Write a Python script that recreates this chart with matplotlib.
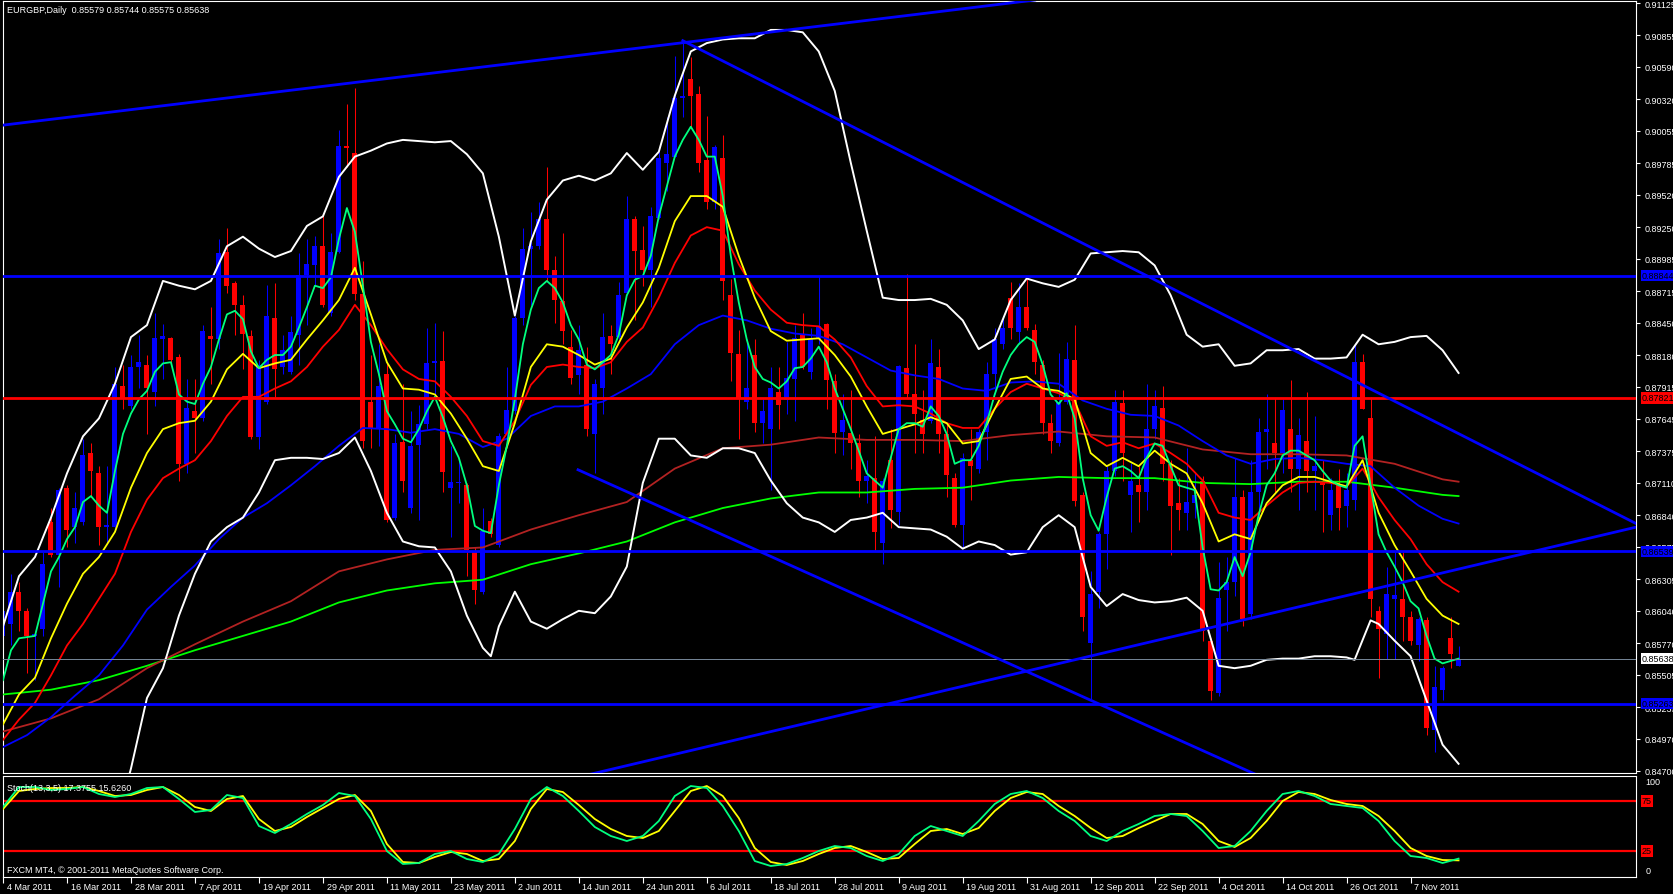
import matplotlib
matplotlib.use("Agg")
import matplotlib.pyplot as plt
from matplotlib.transforms import blended_transform_factory

plt.rcParams['font.family'] = ['Liberation Sans', 'DejaVu Sans']
FS = 6.5

# ---- candles (bar 0 = 4 Mar 2011, daily, weekdays) ----
opens = [0.8583, 0.8593, 0.8620, 0.8604, 0.8583, 0.8589, 0.8678, 0.8651, 0.8707, 0.8674,
         0.8678, 0.8736, 0.8719, 0.8674, 0.8674, 0.8792, 0.8775, 0.8808, 0.8810, 0.8787,
         0.8831, 0.8832, 0.8816, 0.8727, 0.8771, 0.8765, 0.8834, 0.8831, 0.8904, 0.8878,
         0.8860, 0.8834, 0.8749, 0.8779, 0.8849, 0.8808, 0.8804, 0.8835, 0.8885, 0.8893,
         0.8909, 0.8853, 0.8904, 0.8993, 0.8987, 0.8869, 0.8779, 0.8756, 0.8802, 0.8682,
         0.8745, 0.8690, 0.8743, 0.8760, 0.8811, 0.8813, 0.8707, 0.8711, 0.8709, 0.8653,
         0.8620, 0.8679, 0.8659, 0.8752, 0.8771, 0.8849, 0.8907, 0.8909, 0.8932, 0.8889,
         0.8863, 0.8825, 0.8801, 0.8810, 0.8752, 0.8790, 0.8834, 0.8833, 0.8870, 0.8932,
         0.8906, 0.8889, 0.8933, 0.8979, 0.8984, 0.9033, 0.9049, 0.9036, 0.8981, 0.8946,
         0.8983, 0.8868, 0.8819, 0.8779, 0.8818, 0.8761, 0.8756, 0.8787, 0.8780, 0.8798,
         0.8835, 0.8804, 0.8831, 0.8844, 0.8796, 0.8754, 0.8753, 0.8744, 0.8713, 0.8715,
         0.8661, 0.8730, 0.8687, 0.8807, 0.8785, 0.8764, 0.8763, 0.8808, 0.8752, 0.8715,
         0.8676, 0.8730, 0.8723, 0.8754, 0.8802, 0.8827, 0.8866, 0.8837, 0.8858, 0.8839,
         0.8810, 0.8761, 0.8744, 0.8779, 0.8814, 0.8701, 0.8577, 0.8620, 0.8668, 0.8721,
         0.8778, 0.8701, 0.8709, 0.8703, 0.8756, 0.8774, 0.8727, 0.8694, 0.8686, 0.8694,
         0.8713, 0.8579, 0.8535, 0.8621, 0.8628, 0.8699, 0.8601, 0.8703, 0.8754, 0.8744,
         0.8736, 0.8756, 0.8723, 0.8746, 0.8721, 0.8713, 0.8684, 0.8709, 0.8692, 0.8697,
         0.8812, 0.8765, 0.8604, 0.8585, 0.8614, 0.8614, 0.8599, 0.8575, 0.8596, 0.8504,
         0.8538, 0.8581, 0.85579]
highs = [0.8610, 0.8635, 0.8628, 0.8606, 0.8587, 0.8653, 0.8690, 0.8707, 0.8709, 0.8703,
         0.8748, 0.8744, 0.8725, 0.8725, 0.8808, 0.8810, 0.8818, 0.8835, 0.8818, 0.8853,
         0.8844, 0.8833, 0.8819, 0.8798, 0.8798, 0.8843, 0.8858, 0.8915, 0.8924, 0.8880,
         0.8868, 0.8839, 0.8814, 0.8877, 0.8878, 0.8835, 0.8851, 0.8903, 0.8915, 0.8918,
         0.8936, 0.8920, 0.9006, 0.9028, 0.9041, 0.8897, 0.8818, 0.8827, 0.8812, 0.8752,
         0.8794, 0.8771, 0.8776, 0.8841, 0.8845, 0.8838, 0.8742, 0.8732, 0.8711, 0.8657,
         0.8690, 0.8682, 0.8753, 0.8808, 0.8851, 0.8924, 0.8938, 0.8946, 0.8975, 0.8901,
         0.8920, 0.8839, 0.8843, 0.8825, 0.8798, 0.8853, 0.8843, 0.8879, 0.8951, 0.8934,
         0.8926, 0.8942, 0.8988, 0.9017, 0.9068, 0.9081, 0.9067, 0.9043, 0.9018, 0.8994,
         0.9002, 0.8882, 0.8839, 0.8831, 0.8831, 0.8781, 0.8808, 0.8808, 0.8829, 0.8843,
         0.8853, 0.8841, 0.8884, 0.8845, 0.8802, 0.8785, 0.8789, 0.8752, 0.8730, 0.8750,
         0.8715, 0.8756, 0.8810, 0.8886, 0.8827, 0.8789, 0.8831, 0.8823, 0.8761, 0.8719,
         0.8736, 0.8756, 0.8756, 0.8812, 0.8841, 0.8851, 0.8879, 0.8878, 0.8882, 0.8844,
         0.8814, 0.8769, 0.8820, 0.8829, 0.8843, 0.8703, 0.8637, 0.8670, 0.8725, 0.8789,
         0.8789, 0.8728, 0.8725, 0.8794, 0.8789, 0.8792, 0.8730, 0.8715, 0.8740, 0.8719,
         0.8717, 0.8581, 0.8645, 0.8649, 0.8732, 0.8705, 0.8730, 0.8765, 0.8785, 0.8782,
         0.8781, 0.8797, 0.8765, 0.8787, 0.8767, 0.8730, 0.8715, 0.8723, 0.8719, 0.8827,
         0.8819, 0.8783, 0.8608, 0.8641, 0.8653, 0.8653, 0.8604, 0.8599, 0.8599, 0.8558,
         0.8558, 0.8599, 0.85744]
lows = [0.8579, 0.8575, 0.8587, 0.8552, 0.8546, 0.8583, 0.8649, 0.8624, 0.8657, 0.8661,
        0.8676, 0.8699, 0.8659, 0.8661, 0.8672, 0.8773, 0.8773, 0.8790, 0.8752, 0.8775,
        0.8798, 0.8812, 0.8713, 0.8719, 0.8736, 0.8763, 0.8794, 0.8823, 0.8870, 0.8835,
        0.8806, 0.8748, 0.8739, 0.8777, 0.8783, 0.8802, 0.8802, 0.8810, 0.8843, 0.8876,
        0.8858, 0.8851, 0.8903, 0.8975, 0.8864, 0.8740, 0.8740, 0.8742, 0.8678, 0.8680,
        0.8703, 0.8686, 0.8680, 0.8756, 0.8785, 0.8703, 0.8666, 0.8694, 0.8633, 0.8610,
        0.8618, 0.8666, 0.8657, 0.8748, 0.8769, 0.8843, 0.8860, 0.8907, 0.8880, 0.8845,
        0.8827, 0.8794, 0.8785, 0.8750, 0.8719, 0.8769, 0.8802, 0.8831, 0.8868, 0.8847,
        0.8876, 0.8858, 0.8932, 0.8955, 0.8984, 0.9017, 0.9008, 0.8971, 0.8940, 0.8940,
        0.8864, 0.8796, 0.8748, 0.8773, 0.8754, 0.8744, 0.8705, 0.8756, 0.8769, 0.8763,
        0.8806, 0.8798, 0.8827, 0.8773, 0.8736, 0.8734, 0.8723, 0.8699, 0.8694, 0.8655,
        0.8643, 0.8673, 0.8676, 0.8782, 0.8736, 0.8736, 0.8761, 0.8736, 0.8699, 0.8674,
        0.8657, 0.8697, 0.8719, 0.8730, 0.8785, 0.8823, 0.8831, 0.8827, 0.8839, 0.8802,
        0.8752, 0.8736, 0.8742, 0.8777, 0.8692, 0.8587, 0.8529, 0.8606, 0.8639, 0.8717,
        0.8713, 0.8670, 0.8678, 0.8688, 0.8748, 0.8713, 0.8651, 0.8672, 0.8672, 0.8682,
        0.8579, 0.8529, 0.8533, 0.8587, 0.8616, 0.8591, 0.8597, 0.8682, 0.8723, 0.8703,
        0.8719, 0.8703, 0.8688, 0.8703, 0.8688, 0.8670, 0.8672, 0.8672, 0.8674, 0.8688,
        0.8773, 0.8599, 0.8548, 0.8564, 0.8564, 0.8579, 0.8575, 0.8562, 0.8500, 0.8486,
        0.8529, 0.8556, 0.85575]
closes = [0.8604, 0.8620, 0.8604, 0.8583, 0.8585, 0.8643, 0.8651, 0.8705, 0.8672, 0.8690,
          0.8734, 0.8721, 0.8674, 0.8676, 0.8794, 0.8781, 0.8808, 0.8812, 0.8790, 0.8832,
          0.8834, 0.8814, 0.8727, 0.8774, 0.8765, 0.8838, 0.8831, 0.8903, 0.8876, 0.8860,
          0.8836, 0.8749, 0.8810, 0.8851, 0.8806, 0.8822, 0.8837, 0.8885, 0.8894, 0.8909,
          0.8860, 0.8904, 0.8993, 0.8991, 0.8869, 0.8746, 0.8756, 0.8792, 0.8680, 0.8744,
          0.8713, 0.8742, 0.8760, 0.8811, 0.8813, 0.8720, 0.8712, 0.8712, 0.8655, 0.8621,
          0.8671, 0.8668, 0.8750, 0.8772, 0.8849, 0.8907, 0.8909, 0.8932, 0.8889, 0.8864,
          0.8838, 0.8799, 0.8822, 0.8756, 0.8794, 0.8833, 0.8827, 0.8868, 0.8932, 0.8905,
          0.8889, 0.8934, 0.8983, 0.8986, 0.9033, 0.9035, 0.9035, 0.8979, 0.8946, 0.8992,
          0.8880, 0.8820, 0.8781, 0.8790, 0.8761, 0.8771, 0.8790, 0.8776, 0.8799, 0.8832,
          0.8808, 0.8831, 0.8842, 0.8797, 0.8753, 0.8764, 0.8744, 0.8713, 0.8717, 0.8670,
          0.8713, 0.8688, 0.8809, 0.8785, 0.8769, 0.8752, 0.8811, 0.8752, 0.8718, 0.8676,
          0.8732, 0.8725, 0.8754, 0.8802, 0.8831, 0.8841, 0.8841, 0.8858, 0.8841, 0.8812,
          0.8761, 0.8746, 0.8779, 0.8815, 0.8696, 0.8599, 0.8618, 0.8668, 0.8721, 0.8779,
          0.8736, 0.8713, 0.8703, 0.8756, 0.8775, 0.8727, 0.8692, 0.8688, 0.8695, 0.8701,
          0.8587, 0.8537, 0.8615, 0.8628, 0.8699, 0.8597, 0.8703, 0.8754, 0.8756, 0.8736,
          0.8772, 0.8723, 0.8751, 0.8721, 0.8725, 0.8709, 0.8705, 0.8690, 0.8705, 0.8812,
          0.8773, 0.8614, 0.8589, 0.8618, 0.8617, 0.8599, 0.8579, 0.8597, 0.8506, 0.8540,
          0.8556, 0.8568, 0.85638]

# ---- indicator lines ----
ma_fast = [0.8546, 0.8571, 0.8581, 0.8582, 0.8583, 0.8610, 0.8637, 0.8649, 0.8664, 0.8674,
           0.8695, 0.8700, 0.8692, 0.8686, 0.8721, 0.8752, 0.8769, 0.8781, 0.8788, 0.8804,
           0.8811, 0.8812, 0.8785, 0.8779, 0.8777, 0.8794, 0.8808, 0.8831, 0.8852, 0.8855,
           0.8848, 0.8821, 0.8807, 0.8814, 0.8818, 0.8818, 0.8825, 0.8841, 0.8858, 0.8876,
           0.8874, 0.8883, 0.8915, 0.8941, 0.8921, 0.8876, 0.8829,
           0.8802, 0.8771, 0.8760, 0.8748, 0.8745, 0.8756, 0.8771, 0.8783, 0.8766, 0.8746,
           0.8732, 0.8709, 0.8675, 0.8671, 0.8669, 0.8709, 0.8742, 0.8781, 0.8827, 0.8856,
           0.8874, 0.8880, 0.8874, 0.8862, 0.8843, 0.8831, 0.8810, 0.8806, 0.8812, 0.8818,
           0.8835, 0.8868, 0.8881, 0.8884, 0.8901, 0.8934, 0.8959, 0.8984, 0.8998, 0.9009,
           0.8998, 0.8984, 0.8984, 0.8951, 0.8901, 0.8862,
           0.8831, 0.8808, 0.8798, 0.8795, 0.8790, 0.8796, 0.8807, 0.8808, 0.8815, 0.8825,
           0.8812, 0.8790, 0.8773, 0.8756, 0.8738, 0.8719, 0.8713, 0.8707, 0.8732, 0.8756,
           0.8761, 0.8761, 0.8758, 0.8775, 0.8767, 0.8752, 0.8727, 0.8730, 0.8730, 0.8742,
           0.8761, 0.8785, 0.8804, 0.8818, 0.8827, 0.8833, 0.8829, 0.8810, 0.8785, 0.8777,
           0.8786, 0.8765, 0.8715, 0.8684, 0.8671, 0.8699,
           0.8723, 0.8725, 0.8721, 0.8715, 0.8732, 0.8744, 0.8742, 0.8725, 0.8709, 0.8707,
           0.8705, 0.8657, 0.8622, 0.8621, 0.8628, 0.8649, 0.8633, 0.8653, 0.8684, 0.8709,
           0.8719, 0.8734, 0.8738, 0.8738, 0.8734, 0.8730, 0.8721, 0.8713, 0.8709, 0.8707,
           0.8742, 0.8750, 0.8709, 0.8668, 0.8653, 0.8641, 0.8628, 0.8612, 0.8606, 0.8583,
           0.8564, 0.8560, 0.8562, 0.8564]

even_bars = list(range(0, 183, 2))
ma_yellow = [0.8509, 0.8534, 0.8548, 0.8581, 0.8610, 0.8635, 0.8649, 0.8670, 0.8707, 0.8736,
             0.8756, 0.8761, 0.8763, 0.8779, 0.8806, 0.8819, 0.8807, 0.8811, 0.8814, 0.8831,
             0.8847, 0.8864, 0.8891, 0.8852, 0.8812, 0.8790, 0.8789, 0.8785, 0.8769, 0.8748,
             0.8725, 0.8721, 0.8761, 0.8808, 0.8827, 0.8825, 0.8818, 0.8810, 0.8815, 0.8841,
             0.8862, 0.8891, 0.8930, 0.8951, 0.8951, 0.8942, 0.8901, 0.8866, 0.8838, 0.8830,
             0.8831, 0.8832, 0.8818, 0.8800, 0.8775, 0.8752, 0.8756, 0.8760, 0.8766, 0.8761,
             0.8744, 0.8746, 0.8773, 0.8798, 0.8800, 0.8790, 0.8788, 0.8781, 0.8736, 0.8725,
             0.8732, 0.8725, 0.8738, 0.8727, 0.8719, 0.8694, 0.8662, 0.8668, 0.8664, 0.8694,
             0.8709, 0.8716, 0.8716, 0.8712, 0.8708, 0.8730, 0.8686, 0.8659, 0.8637, 0.8614,
             0.8600, 0.8593]
ma_red = [0.8496, 0.8513, 0.8527, 0.8550, 0.8575, 0.8593, 0.8614, 0.8635, 0.8670, 0.8697,
          0.8715, 0.8723, 0.8730, 0.8746, 0.8767, 0.8783, 0.8783, 0.8790, 0.8796, 0.8808,
          0.8825, 0.8839, 0.8860, 0.8843, 0.8823, 0.8806, 0.8798, 0.8796, 0.8783, 0.8767,
          0.8746, 0.8742, 0.8763, 0.8793, 0.8808, 0.8810, 0.8808, 0.8807, 0.8812, 0.8829,
          0.8841, 0.8866, 0.8895, 0.8918, 0.8925, 0.8922, 0.8894, 0.8872, 0.8856, 0.8845,
          0.8843, 0.8842, 0.8831, 0.8816, 0.8792, 0.8775, 0.8776, 0.8775, 0.8769, 0.8761,
          0.8757, 0.8757, 0.8773, 0.8787, 0.8794, 0.8790, 0.8786, 0.8779, 0.8750, 0.8742,
          0.8745, 0.8740, 0.8744, 0.8736, 0.8727, 0.8713, 0.8686, 0.8682, 0.8680, 0.8692,
          0.8703, 0.8711, 0.8712, 0.8711, 0.8708, 0.8723, 0.8699, 0.8680, 0.8664, 0.8643,
          0.8628, 0.8620]

blue_bars = list(range(0, 181, 3)) + [182]
ma_blue = [0.8490, 0.8500, 0.8515, 0.8533, 0.8550, 0.8575, 0.8605, 0.8624, 0.8642, 0.8664,
           0.8682, 0.8694, 0.8709, 0.8725, 0.8742, 0.8757, 0.8756, 0.8753, 0.8756, 0.8752,
           0.8741, 0.8748, 0.8767, 0.8775, 0.8775, 0.8779, 0.8790, 0.8802, 0.8827, 0.8843,
           0.8851, 0.8847, 0.8840, 0.8836, 0.8834, 0.8827, 0.8816, 0.8805, 0.8801, 0.8798,
           0.8790, 0.8788, 0.8795, 0.8796, 0.8794, 0.8780, 0.8773, 0.8768, 0.8767, 0.8759,
           0.8746, 0.8734, 0.8727, 0.8731, 0.8732, 0.8730, 0.8727, 0.8725, 0.8707, 0.8692,
           0.8681, 0.8677]

slow_bars = list(range(0, 181, 6)) + [182]
ma_brown = [0.8503, 0.8514, 0.8530, 0.8556, 0.8576, 0.8595, 0.8612, 0.8637, 0.8647, 0.8655,
            0.8657, 0.8672, 0.8684, 0.8695, 0.8723, 0.8740, 0.8743, 0.8749, 0.8747, 0.8747,
            0.8746, 0.8751, 0.8754, 0.8750, 0.8749, 0.8739, 0.8735, 0.8735, 0.8734, 0.8727,
            0.8714, 0.8712]
ma_lime = [0.8534, 0.8538, 0.8546, 0.8558, 0.8571, 0.8583, 0.8595, 0.8611, 0.8621, 0.8627,
           0.8630, 0.8643, 0.8652, 0.8662, 0.8678, 0.8690, 0.8698, 0.8703, 0.8703, 0.8706,
           0.8707, 0.8713, 0.8716, 0.8715, 0.8715, 0.8711, 0.8710, 0.8712, 0.8712, 0.8707,
           0.8701, 0.8700]

band_upper = [0.8591, 0.8633, 0.8649, 0.8682, 0.8719, 0.8750, 0.8765, 0.8794, 0.8833, 0.8843,
              0.8880, 0.8876, 0.8873, 0.8880, 0.8909, 0.8917, 0.8907, 0.8900, 0.8905, 0.8926,
              0.8934, 0.8967, 0.8984, 0.8989, 0.8995, 0.8998, 0.8997, 0.8996, 0.8997, 0.8986,
              0.8970, 0.8917, 0.8851, 0.8913, 0.8948, 0.8964, 0.8968, 0.8964, 0.8970, 0.8987,
              0.8973, 0.8988, 0.9035, 0.9072, 0.9079, 0.9082, 0.9083, 0.9083, 0.9090, 0.9090,
              0.9088, 0.9072, 0.9039, 0.8979, 0.8922, 0.8866, 0.8864, 0.8864, 0.8865, 0.8860,
              0.8847, 0.8823, 0.8831, 0.8864, 0.8882, 0.8878, 0.8875, 0.8881, 0.8903, 0.8904,
              0.8905, 0.8904, 0.8893, 0.8868, 0.8835, 0.8825, 0.8827, 0.8809, 0.8811, 0.8822,
              0.8822, 0.8823, 0.8815, 0.8815, 0.8816, 0.8835, 0.8827, 0.8829, 0.8833, 0.8834,
              0.8822, 0.8803]
lower_bars = ([14] + list(range(16, 61, 2)) + [61] + list(range(62, 169, 2))
              + [169, 171] + list(range(172, 183, 2)))
band_lower = [0.8422, 0.8472, 0.8531, 0.8556, 0.8600, 0.8635, 0.8662, 0.8674, 0.8682, 0.8703,
              0.8730, 0.8732, 0.8732, 0.8731, 0.8736, 0.8749, 0.8721, 0.8686, 0.8662, 0.8658,
              0.8657, 0.8637, 0.8600, 0.8573, 0.8566, 0.8591, 0.8620, 0.8595, 0.8589, 0.8597,
              0.8604, 0.8602, 0.8616, 0.8641, 0.8711, 0.8748, 0.8748, 0.8734, 0.8732, 0.8740,
              0.8740, 0.8736, 0.8713, 0.8694, 0.8682, 0.8678, 0.8670, 0.8680, 0.8682, 0.8686,
              0.8674, 0.8673, 0.8672, 0.8666, 0.8656, 0.8662, 0.8659, 0.8651, 0.8653, 0.8674,
              0.8684, 0.8674, 0.8624, 0.8608, 0.8618, 0.8613, 0.8611, 0.8612, 0.8615, 0.8604,
              0.8558, 0.8556, 0.8558, 0.8563, 0.8564, 0.8564, 0.8566, 0.8566, 0.8565, 0.8563,
              0.8596, 0.8593, 0.8579, 0.8566, 0.8529, 0.8492, 0.8476]

stoch_main = [69, 89, 89, 86, 87, 89, 82, 79, 82, 88, 89, 77, 64, 66, 81, 78, 50, 43, 52, 62,
              71, 83, 80, 57, 25, 12, 13, 22, 25, 17, 14, 22, 47, 77, 89, 80, 65, 49, 40, 35,
              40, 55, 80, 90, 88, 70, 45, 15, 10, 12, 18, 25, 30, 28, 20, 15, 22, 40, 50, 45,
              40, 55, 72, 82, 85, 78, 65, 55, 40, 35, 45, 52, 60, 62, 60, 45, 28, 30, 45, 65,
              82, 85, 80, 72, 70, 68, 55, 35, 20, 18, 13, 17.3755]
stoch_signal = [67, 85, 87, 88, 88, 89, 85, 80, 81, 86, 89, 81, 69, 65, 77, 80, 57, 45, 49, 59,
                68, 77, 81, 65, 32, 14, 13, 19, 24, 22, 15, 17, 35, 67, 87, 84, 71, 57, 47, 40,
                38, 45, 65, 85, 90, 80, 58, 28, 14, 11, 15, 22, 28, 30, 24, 17, 18, 32, 45, 47,
                42, 48, 65, 78, 84, 82, 70, 60, 48, 38, 40, 48, 55, 62, 62, 52, 35, 29, 38, 55,
                75, 84, 82, 76, 72, 70, 60, 45, 28, 20, 16, 15.6260]
stoch_levels = [75, 25]

# ---- drawn objects ----
h_levels = [0.88844, 0.87821, 0.86539, 0.85263]
h_colors = ['#0000FF', '#FF0000', '#0000FF', '#0000FF']
bid_price = 0.85638
trend_lines = [((-0.4, 0.9010), (129.0, 0.9115)),
               ((85.0, 0.9081), (204.2, 0.8677)),
               ((71.9, 0.8722), (160.0, 0.8457)),
               ((60.0, 0.8446), (204.2, 0.8674))]

price_ticks = [0.91125, 0.90855, 0.90590, 0.90320, 0.90055, 0.89785, 0.89520, 0.89250,
               0.88985, 0.88715, 0.88450, 0.88180, 0.87915, 0.87645, 0.87375, 0.87110,
               0.86840, 0.86575, 0.86305, 0.86040, 0.85770, 0.85505, 0.85235, 0.84970, 0.84700]
date_labels = ['4 Mar 2011', '16 Mar 2011', '28 Mar 2011', '7 Apr 2011', '19 Apr 2011',
               '29 Apr 2011', '11 May 2011', '23 May 2011', '2 Jun 2011', '14 Jun 2011',
               '24 Jun 2011', '6 Jul 2011', '18 Jul 2011', '28 Jul 2011', '9 Aug 2011',
               '19 Aug 2011', '31 Aug 2011', '12 Sep 2011', '22 Sep 2011', '4 Oct 2011',
               '14 Oct 2011', '26 Oct 2011', '7 Nov 2011']
date_bars = list(range(0, 177, 8))

W, H = 1674, 895
fig = plt.figure(figsize=(W / 100, H / 100), dpi=100, facecolor='black')


def add_px_axes(left, top, right, bottom):
    return fig.add_axes([left / W, 1 - bottom / H, (right - left) / W, (bottom - top) / H])


ax = add_px_axes(2.5, 2, 1636, 774)
ax_st = add_px_axes(2.5, 776.5, 1636, 878)
for a in (ax, ax_st):
    a.set_facecolor('black')
    for s in a.spines.values():
        s.set_color('white')
        s.set_linewidth(0.8)
    a.set_xlim(-0.0625, 204.1875)

ax.set_ylim(0.84683, 0.91142)
ax_st.set_ylim(-1, 100.5)

# candles
n = len(closes)
for i in range(n):
    o, h, l, c = opens[i], highs[i], lows[i], closes[i]
    col = '#0000FF' if c >= o else '#FF0000'
    ax.vlines(i, l, h, color=col, lw=0.75, zorder=2)
    body = max(abs(c - o), 0.00003)
    ax.bar(i, body, bottom=min(o, c), width=0.625, color=col, lw=0, zorder=2)

# indicators
ax.plot(slow_bars, ma_lime, color='#00FF00', lw=1.3, zorder=3)
ax.plot(slow_bars, ma_brown, color='#B22222', lw=1.3, zorder=3)
ax.plot(blue_bars, ma_blue, color='#0000FF', lw=1.3, zorder=3)
ax.plot(even_bars, ma_red, color='#FF0000', lw=1.3, zorder=3)
ax.plot(even_bars, ma_yellow, color='#FFFF00', lw=1.3, zorder=3)
ax.plot(range(n), ma_fast, color='#00FF7F', lw=1.3, zorder=3)
ax.plot(even_bars, band_upper, color='white', lw=1.4, zorder=3)
ax.plot(lower_bars, band_lower, color='white', lw=1.4, zorder=3)

# objects
ax.axhline(bid_price, color='#778899', lw=0.7, zorder=4)
for lvl, col in zip(h_levels, h_colors):
    ax.axhline(lvl, color=col, lw=2.0, zorder=5)
for (x0, y0), (x1, y1) in trend_lines:
    ax.plot([x0, x1], [y0, y1], color='#0000FF', lw=2.0, zorder=5)

# price axis
ax.yaxis.tick_right()
ax.set_yticks(price_ticks)
ax.set_yticklabels([f'{p:.5f}' for p in price_ticks])
ax.tick_params(axis='y', colors='white', labelsize=FS, length=3, width=0.8, pad=3)
ax.tick_params(axis='x', bottom=False, labelbottom=False)

ytr = ax.get_yaxis_transform()
for lvl, col in zip(h_levels, h_colors):
    ax.text(1.0036, lvl, f'{lvl:.5f}', transform=ytr, ha='left', va='center', fontsize=FS,
            color='black', zorder=10, clip_on=False,
            bbox=dict(boxstyle='square,pad=0.12', fc=col, ec='none'))
ax.text(1.0036, bid_price, f'{bid_price:.5f}', transform=ytr, ha='left', va='center',
        fontsize=FS, color='black', zorder=10, clip_on=False,
        bbox=dict(boxstyle='square,pad=0.12', fc='white', ec='none'))

ax.text(0.0028, 0.9895, 'EURGBP,Daily  0.85579 0.85744 0.85575 0.85638', transform=ax.transAxes,
        color='white', fontsize=FS, ha='left', va='center')

# stochastic
for lv in stoch_levels:
    ax_st.axhline(lv, color='#FF0000', lw=1.6, zorder=2)
ax_st.plot(even_bars, stoch_signal, color='#FFFF00', lw=1.3, zorder=3)
ax_st.plot(even_bars, stoch_main, color='#00FF7F', lw=1.3, zorder=3)
ax_st.set_yticks([])
ax_st.text(0.0028, 0.885, 'Stoch(13,3,5) 17.3755 15.6260', transform=ax_st.transAxes,
           color='white', fontsize=FS, ha='left', va='center')
ax_st.text(0.0028, 0.075, 'FXCM MT4, \u00a9 2001-2011 MetaQuotes Software Corp.',
           transform=ax_st.transAxes, color='white', fontsize=FS, ha='left', va='center')
str_ = ax_st.get_yaxis_transform()
ax_st.text(1.006, 94, '100', transform=str_, color='white', fontsize=FS, ha='left',
           va='center', clip_on=False)
ax_st.text(1.006, 5, '0', transform=str_, color='white', fontsize=FS, ha='left', va='center',
           clip_on=False)
for lv in stoch_levels:
    ax_st.text(1.0036, lv, str(lv), transform=str_, color='black', fontsize=FS, ha='left',
               va='center', clip_on=False,
               bbox=dict(boxstyle='square,pad=0.12', fc='#FF0000', ec='none'))

# date axis
ax_st.set_xticks(date_bars)
ax_st.tick_params(axis='x', colors='white', length=4, width=0.8, labelbottom=False)
xtr = blended_transform_factory(ax_st.transData, ax_st.transAxes)
for b, lab in zip(date_bars, date_labels):
    ax_st.text(b + 0.45, -0.09, lab, transform=xtr, color='white', fontsize=FS,
               ha='left', va='center', clip_on=False)

fig.savefig('out.png', dpi=100, facecolor='black')
